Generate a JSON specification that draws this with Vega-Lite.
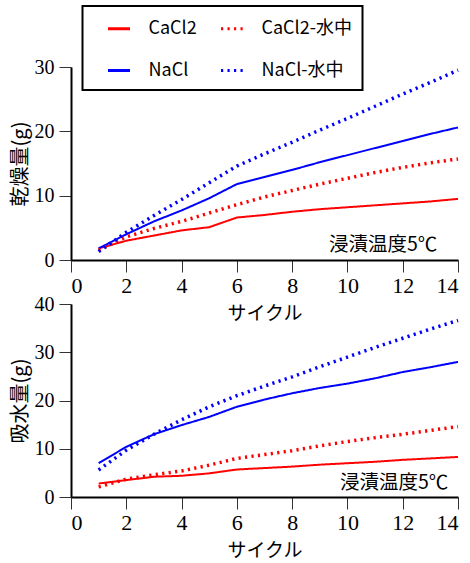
{
  "$schema": "https://vega.github.io/schema/vega-lite/v6.json",
  "padding": {"left": 10, "top": 5, "right": 2, "bottom": 0},
  "background": "white",
  "bounds": "flush",
  "spacing": 44,
  "resolve": {"scale": {"color": "independent", "strokeDash": "independent"}, "legend": {"color": "independent", "strokeDash": "independent"}},
  "config": {
    "view": {"stroke": null},
    "font": "Noto Sans CJK JP",
    "legend": {"strokeWidth": 2},
    "axis": {"grid": false, "domainColor": "black", "domainWidth": 2, "tickColor": "#333", "tickSize": 12, "labelFont": "Liberation Sans Narrow", "labelColor": "black", "titleColor": "black", "titleFont": "Noto Sans CJK JP", "titleFontWeight": "normal", "titleFontSize": 20},
    "axisX": {"labelFontSize": 22, "labelPadding": 3, "titlePadding": 8, "titleFontSize": 19},
    "axisY": {"labelFontSize": 20, "labelPadding": 5, "titlePadding": 4}
  },
  "vconcat": [
    {
      "width": 387,
      "height": 193,
      "data": {"values": [
        {"series": "CaCl2", "cycle": 1, "value": 1.8}, {"series": "CaCl2", "cycle": 2, "value": 3.0}, {"series": "CaCl2", "cycle": 3, "value": 3.8}, {"series": "CaCl2", "cycle": 4, "value": 4.6}, {"series": "CaCl2", "cycle": 5, "value": 5.1}, {"series": "CaCl2", "cycle": 6, "value": 6.6}, {"series": "CaCl2", "cycle": 7, "value": 7.0}, {"series": "CaCl2", "cycle": 8, "value": 7.5}, {"series": "CaCl2", "cycle": 9, "value": 7.9}, {"series": "CaCl2", "cycle": 10, "value": 8.2}, {"series": "CaCl2", "cycle": 11, "value": 8.5}, {"series": "CaCl2", "cycle": 12, "value": 8.8}, {"series": "CaCl2", "cycle": 13, "value": 9.1}, {"series": "CaCl2", "cycle": 14, "value": 9.5},
        {"series": "CaCl2-水中", "cycle": 1, "value": 1.5}, {"series": "CaCl2-水中", "cycle": 2, "value": 3.6}, {"series": "CaCl2-水中", "cycle": 3, "value": 4.9}, {"series": "CaCl2-水中", "cycle": 4, "value": 6.0}, {"series": "CaCl2-水中", "cycle": 5, "value": 7.3}, {"series": "CaCl2-水中", "cycle": 6, "value": 8.6}, {"series": "CaCl2-水中", "cycle": 7, "value": 9.8}, {"series": "CaCl2-水中", "cycle": 8, "value": 10.8}, {"series": "CaCl2-水中", "cycle": 9, "value": 11.8}, {"series": "CaCl2-水中", "cycle": 10, "value": 12.7}, {"series": "CaCl2-水中", "cycle": 11, "value": 13.6}, {"series": "CaCl2-水中", "cycle": 12, "value": 14.4}, {"series": "CaCl2-水中", "cycle": 13, "value": 15.1}, {"series": "CaCl2-水中", "cycle": 14, "value": 15.7},
        {"series": "NaCl", "cycle": 1, "value": 1.8}, {"series": "NaCl", "cycle": 2, "value": 4.0}, {"series": "NaCl", "cycle": 3, "value": 6.0}, {"series": "NaCl", "cycle": 4, "value": 7.7}, {"series": "NaCl", "cycle": 5, "value": 9.6}, {"series": "NaCl", "cycle": 6, "value": 11.8}, {"series": "NaCl", "cycle": 7, "value": 12.9}, {"series": "NaCl", "cycle": 8, "value": 14.0}, {"series": "NaCl", "cycle": 9, "value": 15.2}, {"series": "NaCl", "cycle": 10, "value": 16.3}, {"series": "NaCl", "cycle": 11, "value": 17.4}, {"series": "NaCl", "cycle": 12, "value": 18.5}, {"series": "NaCl", "cycle": 13, "value": 19.6}, {"series": "NaCl", "cycle": 14, "value": 20.6},
        {"series": "NaCl-水中", "cycle": 1, "value": 1.3}, {"series": "NaCl-水中", "cycle": 2, "value": 4.3}, {"series": "NaCl-水中", "cycle": 3, "value": 6.9}, {"series": "NaCl-水中", "cycle": 4, "value": 9.4}, {"series": "NaCl-水中", "cycle": 5, "value": 12.0}, {"series": "NaCl-水中", "cycle": 6, "value": 14.6}, {"series": "NaCl-水中", "cycle": 7, "value": 16.5}, {"series": "NaCl-水中", "cycle": 8, "value": 18.3}, {"series": "NaCl-水中", "cycle": 9, "value": 20.2}, {"series": "NaCl-水中", "cycle": 10, "value": 22.0}, {"series": "NaCl-水中", "cycle": 11, "value": 23.9}, {"series": "NaCl-水中", "cycle": 12, "value": 25.8}, {"series": "NaCl-水中", "cycle": 13, "value": 27.6}, {"series": "NaCl-水中", "cycle": 14, "value": 29.5}
      ]},
      "layer": [
        {
          "transform": [{"filter": {"field": "series", "oneOf": ["CaCl2", "NaCl"]}}],
          "mark": {"type": "line", "clip": false, "strokeWidth": 2},
          "encoding": {
            "x": {"field": "cycle", "type": "quantitative", "scale": {"domain": [0, 14]}, "axis": {"values": [0, 2, 4, 6, 8, 10, 12, 14], "title": "サイクル"}},
            "y": {"field": "value", "type": "quantitative", "scale": {"domain": [0, 30]}, "axis": {"values": [0, 10, 20, 30], "title": "乾燥量(g)"}},
            "color": {"field": "series", "type": "nominal", "scale": {"domain": ["CaCl2", "CaCl2-水中", "NaCl", "NaCl-水中"], "range": ["#ff0000", "#ff0000", "#0000ff", "#0000ff"]},
              "legend": {"orient": "none", "legendX": 11.5, "legendY": -61, "columns": 2, "direction": "horizontal", "title": null, "strokeColor": "black", "fillColor": "white", "padding": 10, "symbolType": "stroke", "symbolSize": 484, "symbolStrokeWidth": 2.8, "labelFontSize": 18, "labelFont": "Noto Sans CJK JP", "labelColor": "black", "columnPadding": 8, "rowPadding": 20, "symbolOffset": 14, "labelOffset": 17}},
            "strokeDash": {"field": "series", "type": "nominal", "scale": {"domain": ["CaCl2", "CaCl2-水中", "NaCl", "NaCl-水中"], "range": [[1, 0], [2.2, 4.3], [1, 0], [2.2, 4.3]]}}
          }
        },
        {
          "transform": [{"filter": {"field": "series", "oneOf": ["CaCl2-水中", "NaCl-水中"]}}],
          "mark": {"type": "line", "clip": false, "strokeWidth": 3.5},
          "encoding": {
            "x": {"field": "cycle", "type": "quantitative"},
            "y": {"field": "value", "type": "quantitative"},
            "color": {"field": "series", "type": "nominal", "scale": {"domain": ["CaCl2", "CaCl2-水中", "NaCl", "NaCl-水中"], "range": ["#ff0000", "#ff0000", "#0000ff", "#0000ff"]}},
            "strokeDash": {"field": "series", "type": "nominal", "scale": {"domain": ["CaCl2", "CaCl2-水中", "NaCl", "NaCl-水中"], "range": [[1, 0], [2.2, 4.3], [1, 0], [2.2, 4.3]]}}
          }
        },
        {
          "data": {"values": [{}]},
          "mark": {"type": "text", "align": "right", "baseline": "middle", "fontSize": 19.5, "font": "Noto Sans CJK JP", "color": "black"},
          "encoding": {"x": {"datum": 13.25, "type": "quantitative"}, "y": {"datum": 2.3, "type": "quantitative"}, "text": {"value": "浸漬温度5℃"}}
        }
      ]
    },
    {
      "width": 387,
      "height": 193,
      "data": {"values": [
        {"series": "CaCl2", "cycle": 1, "value": 2.8}, {"series": "CaCl2", "cycle": 2, "value": 3.5}, {"series": "CaCl2", "cycle": 3, "value": 4.2}, {"series": "CaCl2", "cycle": 4, "value": 4.4}, {"series": "CaCl2", "cycle": 5, "value": 4.9}, {"series": "CaCl2", "cycle": 6, "value": 5.7}, {"series": "CaCl2", "cycle": 7, "value": 6.0}, {"series": "CaCl2", "cycle": 8, "value": 6.3}, {"series": "CaCl2", "cycle": 9, "value": 6.7}, {"series": "CaCl2", "cycle": 10, "value": 7.0}, {"series": "CaCl2", "cycle": 11, "value": 7.3}, {"series": "CaCl2", "cycle": 12, "value": 7.7}, {"series": "CaCl2", "cycle": 13, "value": 8.0}, {"series": "CaCl2", "cycle": 14, "value": 8.3},
        {"series": "CaCl2-水中", "cycle": 1, "value": 2.1}, {"series": "CaCl2-水中", "cycle": 2, "value": 3.7}, {"series": "CaCl2-水中", "cycle": 3, "value": 4.6}, {"series": "CaCl2-水中", "cycle": 4, "value": 5.4}, {"series": "CaCl2-水中", "cycle": 5, "value": 6.6}, {"series": "CaCl2-水中", "cycle": 6, "value": 8.0}, {"series": "CaCl2-水中", "cycle": 7, "value": 8.8}, {"series": "CaCl2-水中", "cycle": 8, "value": 9.6}, {"series": "CaCl2-水中", "cycle": 9, "value": 10.6}, {"series": "CaCl2-水中", "cycle": 10, "value": 11.5}, {"series": "CaCl2-水中", "cycle": 11, "value": 12.3}, {"series": "CaCl2-水中", "cycle": 12, "value": 13.0}, {"series": "CaCl2-水中", "cycle": 13, "value": 13.8}, {"series": "CaCl2-水中", "cycle": 14, "value": 14.6},
        {"series": "NaCl", "cycle": 1, "value": 7.0}, {"series": "NaCl", "cycle": 2, "value": 10.4}, {"series": "NaCl", "cycle": 3, "value": 13.0}, {"series": "NaCl", "cycle": 4, "value": 14.9}, {"series": "NaCl", "cycle": 5, "value": 16.6}, {"series": "NaCl", "cycle": 6, "value": 18.7}, {"series": "NaCl", "cycle": 7, "value": 20.2}, {"series": "NaCl", "cycle": 8, "value": 21.5}, {"series": "NaCl", "cycle": 9, "value": 22.6}, {"series": "NaCl", "cycle": 10, "value": 23.5}, {"series": "NaCl", "cycle": 11, "value": 24.6}, {"series": "NaCl", "cycle": 12, "value": 25.9}, {"series": "NaCl", "cycle": 13, "value": 26.9}, {"series": "NaCl", "cycle": 14, "value": 28.0},
        {"series": "NaCl-水中", "cycle": 1, "value": 5.6}, {"series": "NaCl-水中", "cycle": 2, "value": 9.7}, {"series": "NaCl-水中", "cycle": 3, "value": 13.0}, {"series": "NaCl-水中", "cycle": 4, "value": 16.0}, {"series": "NaCl-水中", "cycle": 5, "value": 18.7}, {"series": "NaCl-水中", "cycle": 6, "value": 21.0}, {"series": "NaCl-水中", "cycle": 7, "value": 23.0}, {"series": "NaCl-水中", "cycle": 8, "value": 24.9}, {"series": "NaCl-水中", "cycle": 9, "value": 27.0}, {"series": "NaCl-水中", "cycle": 10, "value": 29.0}, {"series": "NaCl-水中", "cycle": 11, "value": 31.0}, {"series": "NaCl-水中", "cycle": 12, "value": 32.9}, {"series": "NaCl-水中", "cycle": 13, "value": 34.8}, {"series": "NaCl-水中", "cycle": 14, "value": 36.6}
      ]},
      "layer": [
        {
          "transform": [{"filter": {"field": "series", "oneOf": ["CaCl2", "NaCl"]}}],
          "mark": {"type": "line", "clip": false, "strokeWidth": 2},
          "encoding": {
            "x": {"field": "cycle", "type": "quantitative", "scale": {"domain": [0, 14]}, "axis": {"values": [0, 2, 4, 6, 8, 10, 12, 14], "title": "サイクル"}},
            "y": {"field": "value", "type": "quantitative", "scale": {"domain": [0, 40]}, "axis": {"values": [0, 10, 20, 30, 40], "title": "吸水量(g)"}},
            "color": {"field": "series", "type": "nominal", "scale": {"domain": ["CaCl2", "CaCl2-水中", "NaCl", "NaCl-水中"], "range": ["#ff0000", "#ff0000", "#0000ff", "#0000ff"]}, "legend": null},
            "strokeDash": {"field": "series", "type": "nominal", "scale": {"domain": ["CaCl2", "CaCl2-水中", "NaCl", "NaCl-水中"], "range": [[1, 0], [2.2, 4.3], [1, 0], [2.2, 4.3]]}, "legend": null}
          }
        },
        {
          "transform": [{"filter": {"field": "series", "oneOf": ["CaCl2-水中", "NaCl-水中"]}}],
          "mark": {"type": "line", "clip": false, "strokeWidth": 3.5},
          "encoding": {
            "x": {"field": "cycle", "type": "quantitative"},
            "y": {"field": "value", "type": "quantitative"},
            "color": {"field": "series", "type": "nominal", "scale": {"domain": ["CaCl2", "CaCl2-水中", "NaCl", "NaCl-水中"], "range": ["#ff0000", "#ff0000", "#0000ff", "#0000ff"]}, "legend": null},
            "strokeDash": {"field": "series", "type": "nominal", "scale": {"domain": ["CaCl2", "CaCl2-水中", "NaCl", "NaCl-水中"], "range": [[1, 0], [2.2, 4.3], [1, 0], [2.2, 4.3]]}, "legend": null}
          }
        },
        {
          "data": {"values": [{}]},
          "mark": {"type": "text", "align": "right", "baseline": "middle", "fontSize": 19.5, "font": "Noto Sans CJK JP", "color": "black"},
          "encoding": {"x": {"datum": 13.65, "type": "quantitative"}, "y": {"datum": 2.9, "type": "quantitative"}, "text": {"value": "浸漬温度5℃"}}
        }
      ]
    }
  ]
}
